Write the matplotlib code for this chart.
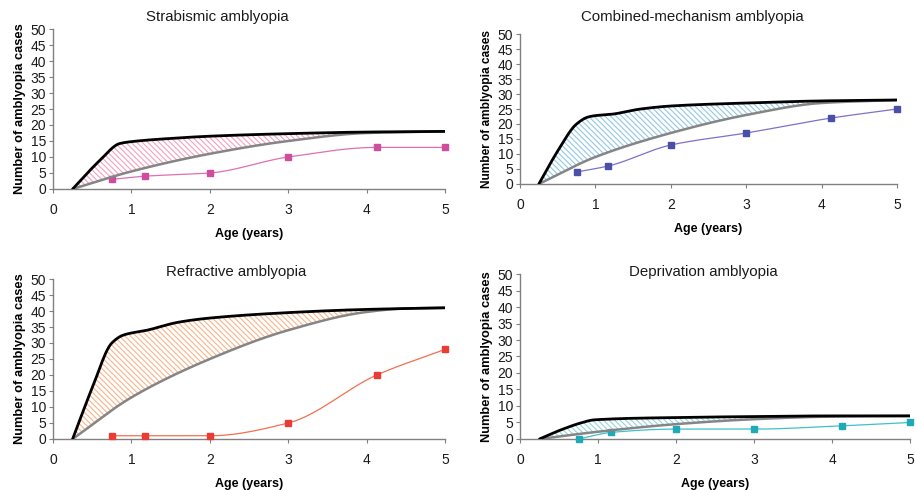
import numpy as np
import matplotlib
matplotlib.use("Agg")
import matplotlib.pyplot as plt

plt.rcParams['font.family'] = ['Liberation Sans', 'DejaVu Sans']
plt.rcParams['hatch.linewidth'] = 0.8

# Ages at which cases were observed
ages = [0.75, 1.17, 2.0, 3.0, 4.13, 5.0]

# Observed cumulative cases per amblyopia type
strab_cases = [3, 4, 5, 10, 13, 13]
comb_cases = [4, 6, 13, 17, 22, 25]
refr_cases = [1, 1, 1, 5, 20, 28]
depr_cases = [0, 2, 3, 3, 4, 5]

# Upper (black) and lower (gray) expected-detection curves
strab_upper_x = [0.25, 0.6, 0.85, 1.0, 1.5, 2.0, 3.0, 4.0, 5.0]
strab_upper_y = [0, 9, 14.2, 14.8, 15.8, 16.5, 17.3, 17.8, 18]
strab_lower_x = [0.25, 1.0, 2.0, 3.0, 4.0, 5.0]
strab_lower_y = [0, 5.5, 11, 15, 17.5, 18]

comb_upper_x = [0.25, 0.5, 0.75, 0.9, 1.0, 1.2, 1.6, 2.0, 3.0, 4.0, 5.0]
comb_upper_y = [0, 11, 20, 22.3, 22.8, 23.2, 25, 26, 27, 27.7, 28]
comb_lower_x = [0.25, 1.0, 2.0, 3.0, 4.0, 5.0]
comb_lower_y = [0, 9, 17, 23, 27, 28]

refr_upper_x = [0.25, 0.5, 0.75, 0.9, 1.2, 1.6, 2.0, 3.0, 4.0, 5.0]
refr_upper_y = [0, 16, 30, 32.5, 34, 36.5, 37.8, 39.5, 40.5, 41]
refr_lower_x = [0.25, 1.0, 2.0, 3.0, 4.0, 4.5, 5.0]
refr_lower_y = [0, 13, 25, 34, 39.7, 40.8, 41]

depr_upper_x = [0.25, 0.55, 0.8, 0.95, 2.0, 3.0, 4.0, 5.0]
depr_upper_y = [0, 3, 5, 5.8, 6.5, 6.8, 7, 7]
depr_lower_x = [0.25, 1.0, 2.0, 3.0, 4.0, 5.0]
depr_lower_y = [0, 2.2, 4.5, 6, 6.8, 7]

titles = ["Strabismic amblyopia", "Combined-mechanism amblyopia",
          "Refractive amblyopia", "Deprivation amblyopia"]
yticks = list(range(0, 55, 5))
xticks = [0, 1, 2, 3, 4, 5]


def pchip(xs, ys, n=400):
    """Monotone piecewise-cubic (Fritsch-Carlson) curve through the points."""
    x = np.asarray(xs, float)
    y = np.asarray(ys, float)
    h = np.diff(x)
    d = np.diff(y) / h
    m = np.zeros_like(y)
    m[0], m[-1] = d[0], d[-1]
    for k in range(1, len(x) - 1):
        if d[k - 1] * d[k] <= 0:
            m[k] = 0.0
        else:
            w1 = 2 * h[k] + h[k - 1]
            w2 = h[k] + 2 * h[k - 1]
            m[k] = (w1 + w2) / (w1 / d[k - 1] + w2 / d[k])
    xx = np.linspace(x[0], x[-1], n)
    idx = np.clip(np.searchsorted(x, xx) - 1, 0, len(x) - 2)
    t = (xx - x[idx]) / h[idx]
    h00 = 2 * t ** 3 - 3 * t ** 2 + 1
    h10 = t ** 3 - 2 * t ** 2 + t
    h01 = -2 * t ** 3 + 3 * t ** 2
    h11 = t ** 3 - t ** 2
    yy = (h00 * y[idx] + h10 * h[idx] * m[idx] +
          h01 * y[idx + 1] + h11 * h[idx] * m[idx + 1])
    return xx, yy


panels = [
    dict(cases=strab_cases, ux=strab_upper_x, uy=strab_upper_y,
         lx=strab_lower_x, ly=strab_lower_y,
         hatch="#f4a0bc", marker="#d04c9c", line="#e070b0",
         rect=[0.0579, 0.6143, 0.4279, 0.3265], title_x=217, title_y=17,
         ylab=9.3),
    dict(cases=comb_cases, ux=comb_upper_x, uy=comb_upper_y,
         lx=comb_lower_x, ly=comb_lower_y,
         hatch="#92c8e2", marker="#4a50a8", line="#8070c8",
         rect=[0.5677, 0.6245, 0.4116, 0.3061], title_x=692, title_y=17,
         ylab=8.6),
    dict(cases=refr_cases, ux=refr_upper_x, uy=refr_upper_y,
         lx=refr_lower_x, ly=refr_lower_y,
         hatch="#f7b488", marker="#e83c34", line="#f07050",
         rect=[0.0579, 0.1041, 0.4279, 0.3265], title_x=236, title_y=272,
         ylab=9.3),
    dict(cases=depr_cases, ux=depr_upper_x, uy=depr_upper_y,
         lx=depr_lower_x, ly=depr_lower_y,
         hatch="#96d4de", marker="#20aab8", line="#40c0cc",
         rect=[0.5677, 0.1041, 0.4258, 0.3367], title_x=703, title_y=272,
         ylab=9.3),
]

fig = plt.figure(figsize=(9.16, 4.9), dpi=100)
W, H = 916, 490

for p, title in zip(panels, titles):
    ax = fig.add_axes(p["rect"])
    ax.set_xlim(0, 5)
    ax.set_ylim(0, 50)

    ux, uy = pchip(p["ux"], p["uy"])
    lx, ly = pchip(p["lx"], p["ly"])
    gl = np.interp(ux, lx, ly)
    ax.fill_between(ux, gl, uy, where=uy >= gl, facecolor="none",
                    edgecolor=p["hatch"], hatch="\\\\\\\\\\\\", linewidth=0)

    ax.axvline(5, color=p["line"], lw=0.7, ls=(0, (3, 3)), alpha=0.4)

    sx, sy = pchip(ages, p["cases"])
    ax.plot(sx, sy, color=p["line"], lw=0.9, zorder=3)
    ax.plot(ages, p["cases"], ls="none", marker="s", ms=4.5,
            color=p["marker"], mec=p["marker"], zorder=4, clip_on=False)

    ax.plot(lx, ly, color="#858585", lw=1.8, zorder=5, solid_capstyle="round")
    ax.plot(ux, uy, color="black", lw=2.0, zorder=6, solid_capstyle="round")

    for side in ("top", "right"):
        ax.spines[side].set_visible(False)
    for side in ("left", "bottom"):
        ax.spines[side].set_color("#808080")
        ax.spines[side].set_linewidth(1.0)
    ax.set_yticks(yticks)
    ax.set_xticks(xticks)
    ax.tick_params(axis="both", colors="#808080", labelcolor="#1a1a1a",
                   labelsize=10, length=3, width=0.8)
    ax.tick_params(axis="x", pad=7)
    ax.tick_params(axis="y", pad=2)
    ax.set_xlabel("Age (years)", fontsize=9, fontweight="bold", labelpad=8)
    ax.set_ylabel("Number of amblyopia cases", fontsize=p["ylab"],
                  fontweight="bold", labelpad=3)
    fig.text(p["title_x"] / W, 1 - p["title_y"] / H, title, ha="center",
             va="center", fontsize=10.8, color="#1a1a1a")

fig.savefig("out.png", dpi=100)
